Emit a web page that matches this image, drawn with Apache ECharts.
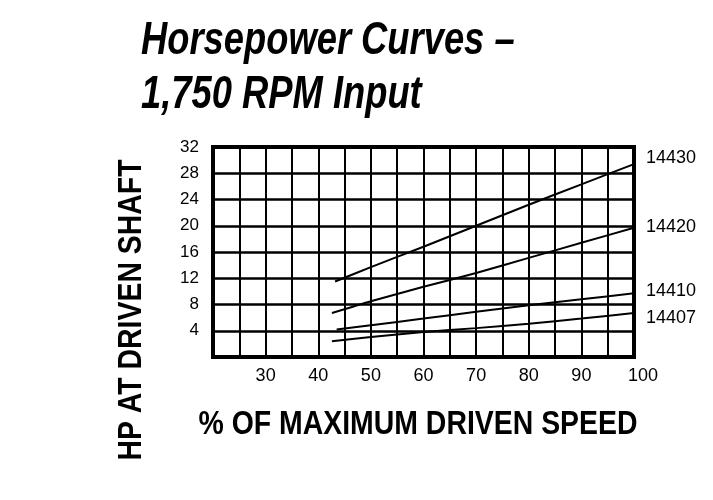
<!DOCTYPE html>
<html>
<head>
<meta charset="utf-8">
<script src="https://cdn.jsdelivr.net/npm/echarts@6/dist/echarts.min.js"></script>
<style>
  html, body { margin: 0; padding: 0; background: #fff; }
  #chart { width: 713px; height: 500px; }
</style>
</head>
<body>
<div id="chart"></div>
<script>
// data
let speed14430 = [43.2, 50, 60, 70, 80, 90, 100];
let hp14430 = [11.5, 13.7, 16.8, 20.0, 23.2, 26.3, 29.4];
let speed14420 = [42.6, 50, 60, 70, 80, 90, 100];
let hp14420 = [6.7, 8.5, 10.7, 12.8, 15.1, 17.4, 19.7];
let speed14410 = [43.5, 50, 60, 70, 80, 90, 100];
let hp14410 = [4.2, 4.85, 5.85, 6.9, 7.9, 8.8, 9.7];
let speed14407 = [42.6, 50, 60, 70, 80, 90, 100];
let hp14407 = [2.4, 3.05, 3.8, 4.4, 5.05, 5.85, 6.7];
let models = ["14430", "14420", "14410", "14407"];

let sans = '"Liberation Sans", Arial, sans-serif';

function pairs(xs, ys) {
    let out = [];
    for (let i = 0; i < xs.length; i++) out.push([xs[i], ys[i]]);
    return out;
}

let curves = [
    pairs(speed14430, hp14430),
    pairs(speed14420, hp14420),
    pairs(speed14410, hp14410),
    pairs(speed14407, hp14407)
];
let labelShift = [-6, -1, -2, 5];

let series = [];
for (let i = 0; i < models.length; i++) {
    series.push({
        name: models[i],
        type: 'line',
        data: curves[i],
        showSymbol: false,
        smooth: 0.2,
        lineStyle: { color: '#000', width: 2 },
        endLabel: {
            show: true,
            formatter: '{a}',
            distance: 12,
            offset: [0, labelShift[i]],
            color: '#000',
            fontFamily: sans,
            fontSize: 18
        }
    });
}

// condensed bold type: squeeze Liberation Sans horizontally
function bigText(text, x, y, size, italic, align, rot) {
    return {
        type: 'text',
        x: x,
        y: y,
        rotation: rot || 0,
        scaleX: italic ? 0.79 : 0.836,
        style: {
            text: text,
            fill: '#000',
            font: (italic ? 'italic ' : '') + 'bold ' + size + 'px ' + sans,
            align: align,
            verticalAlign: 'middle'
        }
    };
}

var myChart = echarts.init(document.getElementById('chart'));
let option = {
    backgroundColor: '#fff',
    animation: false,
    graphic: [
        bigText('Horsepower Curves –', 141, 41, 46, true, 'left'),
        bigText('1,750 RPM Input', 141, 95, 46, true, 'left'),
        bigText('% OF MAXIMUM DRIVEN SPEED', 418, 425, 34, false, 'center'),
        bigText('HP AT DRIVEN SHAFT', 132, 310, 34, false, 'center', Math.PI / 2)
    ],
    grid: {
        left: 213,
        top: 147,
        width: 421,
        height: 210,
        show: true,
        borderColor: '#000',
        borderWidth: 4
    },
    xAxis: {
        type: 'value',
        min: 20,
        max: 100,
        interval: 5,
        axisLine: { show: false },
        axisTick: { show: false },
        axisLabel: {
            margin: 10,
            color: '#000',
            fontFamily: sans,
            fontSize: 18,
            formatter: function (v) {
                if (v % 10 !== 0 || v < 30) return '';
                if (v === 100) return '{r|100}';
                return v;
            },
            rich: { r: { padding: [0, 0, 0, 18], fontFamily: sans, fontSize: 18, color: '#000' } }
        },
        splitLine: { show: true, lineStyle: { color: '#000', width: 2 } }
    },
    yAxis: {
        type: 'value',
        min: 0,
        max: 32,
        interval: 4,
        axisLine: { show: false },
        axisTick: { show: false },
        axisLabel: {
            margin: 14,
            color: '#000',
            fontFamily: sans,
            fontSize: 17,
            formatter: function (v) { return v === 0 ? '' : v; }
        },
        splitLine: { show: true, lineStyle: { color: '#000', width: 2.6 } }
    },
    series: series
};
myChart.setOption(option);
</script>
</body>
</html>
